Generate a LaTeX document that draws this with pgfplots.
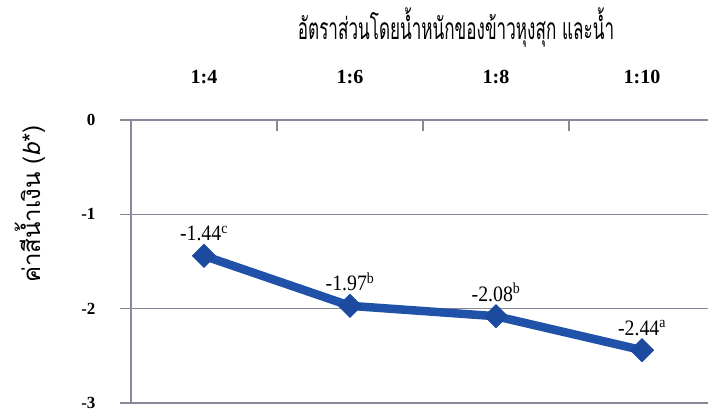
\documentclass[border=0pt]{standalone}
\usepackage{pgfplots}
\pgfplotsset{compat=1.18}
\usepackage{fontspec}
\setmainfont{Liberation Serif}
\newfontfamily\thaifont[Script=Thai]{Loma}
\newfontfamily\thaititle[Script=Thai, FakeStretch=0.57]{Loma}
\newfontfamily\labelfont[FakeStretch=0.9]{Liberation Serif}

\definecolor{lineblue}{RGB}{32,82,170}
\definecolor{markblue}{RGB}{28,74,158}
\definecolor{gridgray}{RGB}{135,137,155}

\begin{document}
\begin{tikzpicture}
\path[use as bounding box] (-131pt,-9pt) rectangle (577pt,403pt);
\begin{axis}[
  at={(0pt,0pt)}, anchor=south west,
  scale only axis, width=584pt, height=283pt,
  xmin=-0.5, xmax=3.5, ymin=-3, ymax=0,
  axis x line=top, axis y line=left,
  axis line style={draw=gridgray, line width=1.3pt, -},
  % category boundaries carry the ticks, names sit between them
  xtick={-0.5,0.5,1.5,2.5,3.5},
  x tick label as interval,
  xticklabels={1:4,1:6,1:8,1:10},
  xtick align=inside, ytick align=outside,
  major tick length=11pt,
  x tick style={draw=gridgray, line width=1.1pt},
  y tick style={draw=gridgray, line width=1.3pt},
  xticklabel style={font=\bfseries\fontsize{20}{20}\selectfont, yshift=33pt},
  ytick={-3,-2,-1,0},
  yticklabels={-3,-2,-1,0},
  yticklabel style={font=\bfseries\fontsize{17}{17}\selectfont, xshift=-21pt},
  ymajorgrids,
  grid style={draw=gridgray, line width=1.3pt},
  title={\thaititle อัตราส่วนโดยน้ำหนักของข้าวหุงสุก และน้ำ},
  title style={at={(0.5565,1)}, anchor=center, yshift=86pt,
               font=\fontsize{30}{30}\selectfont},
  ylabel={\thaifont ค่าสีน้ำเงิน (\textit{b}*)},
  ylabel style={at={(axis description cs:-0.173,0.703)}, anchor=center,
                font=\fontsize{24}{24}\selectfont},
  point meta=explicit symbolic,
  nodes near coords,
  every node near coord/.append style={font=\labelfont\fontsize{22}{22}\selectfont,
                                       text=black, anchor=south, yshift=11pt},
]
\addplot[draw=lineblue, line width=8.5pt, line join=round,
         mark=square*, mark size=8.3pt,
         mark options={rotate=45, fill=markblue, draw=markblue, line width=0.5pt}]
  table[x=x, y=y, meta=lab] {
x y lab
0 -1.44 {-1.44\textsuperscript{c}}
1 -1.97 {-1.97\textsuperscript{b}}
2 -2.08 {-2.08\textsuperscript{b}}
3 -2.44 {-2.44\textsuperscript{a}}
};
\end{axis}
\end{tikzpicture}
\end{document}
